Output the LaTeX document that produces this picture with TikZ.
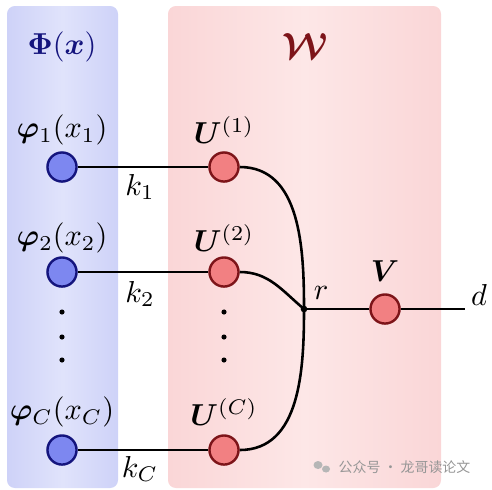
\documentclass[tikz,border=0pt]{standalone}
\usepackage{amsmath,bm}
\usepackage{fontspec}
\newfontfamily\cjk{Noto Sans CJK SC}

\definecolor{phiedge}{RGB}{20,20,125}
\definecolor{phifill}{RGB}{125,135,240}
\definecolor{phiside}{RGB}{206,210,248}
\definecolor{phimid}{RGB}{224,227,251}
\definecolor{wedge}{RGB}{125,20,25}
\definecolor{wfill}{RGB}{242,128,130}
\definecolor{wside}{RGB}{250,214,215}
\definecolor{wmid}{RGB}{253,231,231}
\definecolor{marktext}{RGB}{150,150,150}

\tikzset{
  phinode/.style={circle, draw=phiedge, fill=phifill, line width=0.8pt, minimum size=9.6pt, inner sep=0pt},
  wnode/.style={circle, draw=wedge, fill=wfill, line width=0.8pt, minimum size=9.6pt, inner sep=0pt},
  jdot/.style={circle, fill=black, minimum size=2.2pt, inner sep=0pt},
  wire/.style={line width=0.85pt},
}

\begin{document}
\begin{tikzpicture}[x=0.33pt,y=-0.33pt]
        \useasboundingbox (0,0) rectangle (492,489);
        % panels
        \shade[rounded corners=2.6pt, left color=phiside, right color=phiside, middle color=phimid] (7,6) rectangle (118,488);
        \shade[rounded corners=2.6pt, left color=wside, right color=wside, middle color=wmid] (168,6) rectangle (441,488);
        \node[text=phiedge] (tphi) at (62,47) {$\bm{\Phi}(\bm{x})$};
        \node[text=wedge, font=\large] (tw) at (305,46) {$\bm{\mathcal{W}}$};

        % inputs and first layer
        \node[phinode] (p1) at (62,167) {};
        \node[phinode] (p2) at (62,272) {};
        \node[phinode] (pc) at (62,450) {};
        \node[wnode] (u1) at (224,167) {};
        \node[wnode] (u2) at (224,272) {};
        \node[wnode] (uc) at (224,450) {};
        \node (lp1) at (62,130) {$\bm{\varphi}_1(x_1)$};
        \node (lp2) at (62,238) {$\bm{\varphi}_2(x_2)$};
        \node (lpc) at (62,412) {$\bm{\varphi}_C(x_C)$};
        \node (lu1) at (224,130) {$\bm{U}^{(1)}$};
        \node (lu2) at (224,238) {$\bm{U}^{(2)}$};
        \node (luc) at (224,412) {$\bm{U}^{(C)}$};
        \node (k1) at (140,187) {$k_1$};
        \node (k2) at (140,294) {$k_2$};
        \node (kc) at (140,469) {$k_C$};
        \foreach \y in {312,337,360} {
          \fill (62,\y) circle (0.85pt);
          \fill (224,\y) circle (0.85pt);
        }

        % output side
        \node[jdot] (jct) at (304,309) {};
        \node[wnode] (v) at (385,309) {};
        \coordinate (dend) at (465,309);
        \node (lr) at (321,293) {$r$};
        \node (lv) at (385,271) {$\bm{V}$};
        \node (ld) at (479,295) {$d$};

        \draw[wire] (p1) -- (u1);
        \draw[wire] (p2) -- (u2);
        \draw[wire] (pc) -- (uc);
        \draw[wire] (u1) to[out=0, in=90] (jct.center);
        \draw[wire] (u2) to[out=0, in=140] (jct.center);
        \draw[wire] (uc) to[out=0, in=-90] (jct.center);
        \draw[wire] (jct.center) -- (v) -- (dend);

        % mark
        \fill[marktext!70] (318,465) ellipse (4.5 and 4);
        \fill[marktext!70] (326,469) ellipse (4 and 3.5);
        \node[text=marktext, font=\cjk\fontsize{4.6}{5}\selectfont, anchor=west, inner sep=0pt] (tmark) at (338,467) {公众号 · 龙哥读论文};
\end{tikzpicture}
\end{document}
